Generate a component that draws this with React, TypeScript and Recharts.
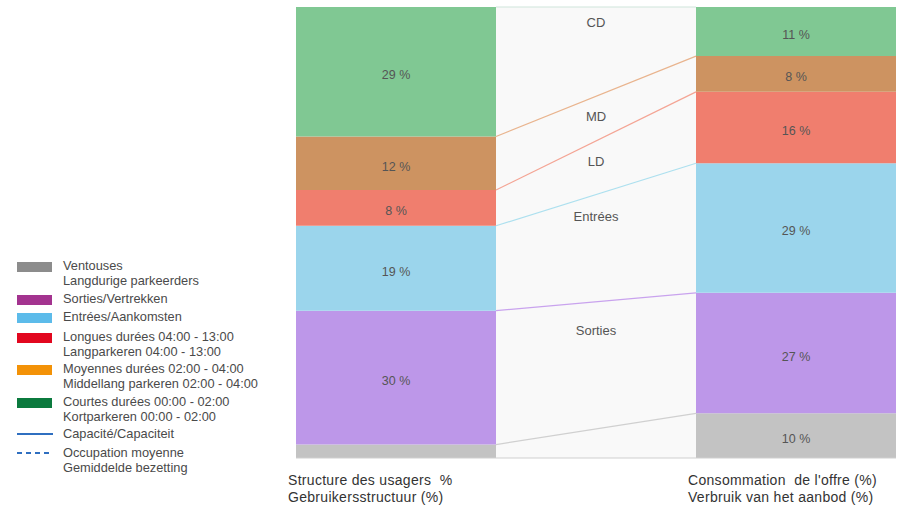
import { BarChart, Bar, XAxis, YAxis, LabelList, ReferenceArea, ReferenceLine, ReferenceDot } from "recharts";

// categories (left bar, gap, right bar)
const sides = ["usagers", "milieu", "offre"];
const sideCaptions = [
  ["Structure des usagers  %", "Gebruikersstructuur (%)"],
  [],
  ["Consommation  de l'offre (%)", "Verbruik van het aanbod (%)"],
];

// stacked from bottom to top, in %
const ventouses = [3, null, 10];
const sorties = [30, null, 27];
const entrees = [19, null, 29];
const longues = [8, null, 16];
const moyennes = [12, null, 8];
const courtes = [29, null, 11];

// labels in the gap between the two bars
const middleLabels = ["CD", "MD", "LD", "Entrées", "Sorties"];
const middleLabelY = [97.5, 76.5, 66.5, 54, 28.5];

const series = [
  { key: "ventouses", values: ventouses, fill: "#c3c3c3", line: "#d0d0d0" },
  { key: "sorties", values: sorties, fill: "#bd97e9", line: "#c9a3ee" },
  { key: "entrees", values: entrees, fill: "#9bd5ec", line: "#ade0ef" },
  { key: "longues", values: longues, fill: "#f07e6e", line: "#f4a595" },
  { key: "moyennes", values: moyennes, fill: "#cd9361", line: "#e9b48e" },
  { key: "courtes", values: courtes, fill: "#80c893", line: "#cfe6dc" },
];

const data = sides.map((side, i) => {
  const row: Record<string, any> = { side };
  series.forEach((s) => (row[s.key] = s.values[i]));
  return row;
});

const topOf = (k: number, i: number) =>
  series.slice(0, k + 1).reduce((acc, s) => acc + (s.values[i] ?? 0), 0);

const legendItems = [
  { lines: ["Ventouses", "Langdurige parkeerders"], color: "#8c8c8c", kind: "box", top: 259 },
  { lines: ["Sorties/Vertrekken"], color: "#a3338f", kind: "box", top: 292 },
  { lines: ["Entrées/Aankomsten"], color: "#5cbbea", kind: "box", top: 310 },
  { lines: ["Longues durées 04:00 - 13:00", "Langparkeren 04:00 - 13:00"], color: "#e2071f", kind: "box", top: 330 },
  { lines: ["Moyennes durées 02:00 - 04:00", "Middellang parkeren 02:00 - 04:00"], color: "#f39207", kind: "box", top: 362 },
  { lines: ["Courtes durées 00:00 - 02:00", "Kortparkeren 00:00 - 02:00"], color: "#0b7a3e", kind: "box", top: 395 },
  { lines: ["Capacité/Capaciteit"], color: "#2f6fc0", kind: "line", top: 427 },
  { lines: ["Occupation moyenne", "Gemiddelde bezetting"], color: "#2f6fc0", kind: "dash", top: 446 },
];

const font = "Liberation Sans, Arial, sans-serif";
const fmt = (v: any) => (v == null || v < 5 ? "" : `${v} %`);

const CaptionTick = (props: any) => {
  const { x, y, payload } = props;
  const lines = sideCaptions[sides.indexOf(payload.value)] || [];
  return (
    <g>
      {lines.map((t, i) => (
        <text
          key={i}
          x={x - 108}
          y={y + 27 + i * 17}
          fill="#333"
          fontSize={14}
          letterSpacing={0.3}
          fontFamily={font}
          style={{ whiteSpace: "pre" }}
        >
          {t}
        </text>
      ))}
    </g>
  );
};

export default function App() {
  return (
    <div style={{ position: "absolute", left: 0, top: 0, width: 901, height: 511, background: "#fff" }}>
      <BarChart
        width={901}
        height={511}
        data={data}
        margin={{ top: 7, right: 5, left: 296, bottom: 0 }}
        barCategoryGap={0}
      >
        <ReferenceArea x1="milieu" x2="milieu" y1={0} y2={101} fill="#f9f9f9" fillOpacity={1} stroke="none" />
        <XAxis
          dataKey="side"
          height={53}
          interval={0}
          axisLine={{ stroke: "#cfcfcf" }}
          tickLine={false}
          tickSize={0}
          tickMargin={0}
          tick={<CaptionTick />}
        />
        <YAxis hide domain={[0, 101]} />
        {series.map((s) => (
          <Bar key={s.key} dataKey={s.key} stackId="a" fill={s.fill} isAnimationActive={false}>
            <LabelList
              dataKey={s.key}
              position="center"
              formatter={fmt}
              fill="#555"
              fontSize={12.5}
              fontFamily={font}
              dy={3}
            />
          </Bar>
        ))}
        {series.map((s, k) => (
          <ReferenceLine
            key={"l" + s.key}
            position="start"
            segment={[
              { x: "milieu", y: topOf(k, 0) },
              { x: "offre", y: topOf(k, 2) },
            ]}
            stroke={s.line}
            strokeWidth={1.2}
          />
        ))}
        {middleLabels.map((t, i) => (
          <ReferenceDot
            key={t}
            x="milieu"
            y={middleLabelY[i]}
            r={0}
            stroke="none"
            fill="none"
            label={{ value: t, fill: "#555", fontSize: 13, fontFamily: font }}
          />
        ))}
      </BarChart>
      {legendItems.map((it, i) => (
        <div key={i} style={{ position: "absolute", left: 17, top: it.top, width: 280 }}>
          {it.kind === "box" && (
            <div style={{ position: "absolute", left: 0, top: 3, width: 35, height: 10, background: it.color }} />
          )}
          {it.kind !== "box" && (
            <svg style={{ position: "absolute", left: 0, top: 5 }} width={36} height={4}>
              <line
                x1={0}
                y1={2}
                x2={36}
                y2={2}
                stroke={it.color}
                strokeWidth={2}
                strokeDasharray={it.kind === "dash" ? "5 4" : undefined}
              />
            </svg>
          )}
          <div
            style={{
              marginLeft: 46,
              fontFamily: font,
              fontSize: 12.8,
              lineHeight: "14.5px",
              color: "#4a4a4a",
            }}
          >
            {it.lines.map((l, j) => (
              <div key={j}>{l}</div>
            ))}
          </div>
        </div>
      ))}
    </div>
  );
}
